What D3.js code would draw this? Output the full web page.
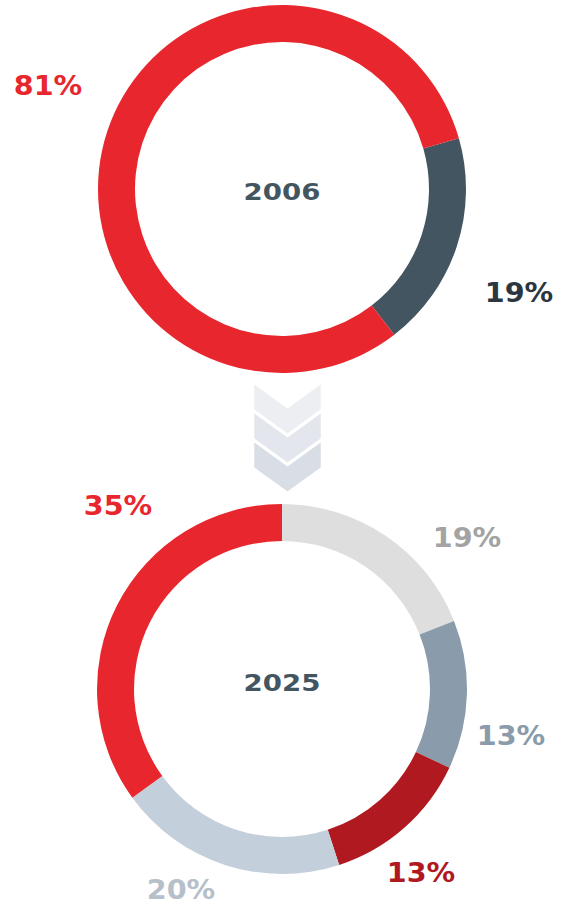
<!DOCTYPE html>
<html>
<head>
<meta charset="utf-8">
<script src="https://cdn.jsdelivr.net/npm/d3@7"></script>
<style>
  html, body { margin: 0; padding: 0; background: #ffffff; }
  svg text { font-family: "DejaVu Sans", "Open Sans", sans-serif; font-weight: 700; }
</style>
</head>
<body>
<svg id="chart" width="577" height="915"></svg>
<script>
// Share split in 2006
const years = ["2006", "2025"];
const labels2006 = ["19%", "81%"];
const values2006 = [19, 81];
const colors2006 = ["#435561", "#e8262d"];
const textColors2006 = ["#2b3640", "#e8262d"];

// Share split in 2025 (clockwise from 12 o'clock)
const labels2025 = ["19%", "13%", "13%", "20%", "35%"];
const values2025 = [19, 13, 13, 20, 35];
const colors2025 = ["#dedede", "#8a9bab", "#b0191f", "#c3cfdb", "#e8262d"];
const textColors2025 = ["#a3a3a3", "#8a9bab", "#b0191f", "#b6c0ca", "#e8262d"];

// Layout: donut geometry, year baseline and label anchors (text centre, baseline)
const layout = {
  top:    { cx: 282, cy: 189, outer: 184, inner: 147, start: 74, yearY: 200,
            labels: [[519, 302], [48, 95]] },
  bottom: { cx: 282, cy: 689, outer: 185, inner: 148, start: 0, yearY: 691,
            labels: [[467, 547], [511, 745], [421, 882], [181, 899], [118, 515]] }
};

const svg = d3.select("#chart");
const deg = Math.PI / 180;

// Wide, geometric look for the lettering
function wideText(x, y, size, sx, fill, str) {
  return svg.append("text")
    .attr("transform", `translate(${x},${y}) scale(${sx},1)`)
    .attr("text-anchor", "middle")
    .attr("font-size", size)
    .attr("fill", fill)
    .text(str);
}

function donut(cfg, values, colors, labels, textColors, year) {
  const pie = d3.pie().sort(null)
    .startAngle(cfg.start * deg)
    .endAngle(cfg.start * deg + 2 * Math.PI);
  const arc = d3.arc().innerRadius(cfg.inner).outerRadius(cfg.outer);
  const g = svg.append("g").attr("transform", `translate(${cfg.cx},${cfg.cy})`);
  g.selectAll("path")
    .data(pie(values))
    .join("path")
    .attr("d", arc)
    .attr("fill", (d, i) => colors[i]);
  wideText(cfg.cx, cfg.yearY, 23, 1.2, "#435561", year);
  labels.forEach((t, i) =>
    wideText(cfg.labels[i][0], cfg.labels[i][1], 26, 1.1, textColors[i], t));
}

donut(layout.top, values2006, colors2006, labels2006, textColors2006, years[0]);

// Down chevrons between the two donuts
const chevronFills = ["#eceef2", "#e3e6ec", "#d9dde6"];
const chev = { x0: 253, x1: 322, y: 382, step: 29, h: 28, d: 25 };
const xm = (chev.x0 + chev.x1) / 2;
svg.selectAll("path.chev")
  .data(chevronFills)
  .join("path")
  .attr("class", "chev")
  .attr("d", (c, i) => {
    const y = chev.y + i * chev.step;
    return d3.line()([
      [chev.x0, y], [xm, y + chev.d], [chev.x1, y],
      [chev.x1, y + chev.h], [xm, y + chev.h + chev.d], [chev.x0, y + chev.h]
    ]) + "Z";
  })
  .attr("fill", c => c)
  .attr("stroke", "#ffffff")
  .attr("stroke-width", 2.5)
  .attr("stroke-linejoin", "miter");

donut(layout.bottom, values2025, colors2025, labels2025, textColors2025, years[1]);
</script>
</body>
</html>
